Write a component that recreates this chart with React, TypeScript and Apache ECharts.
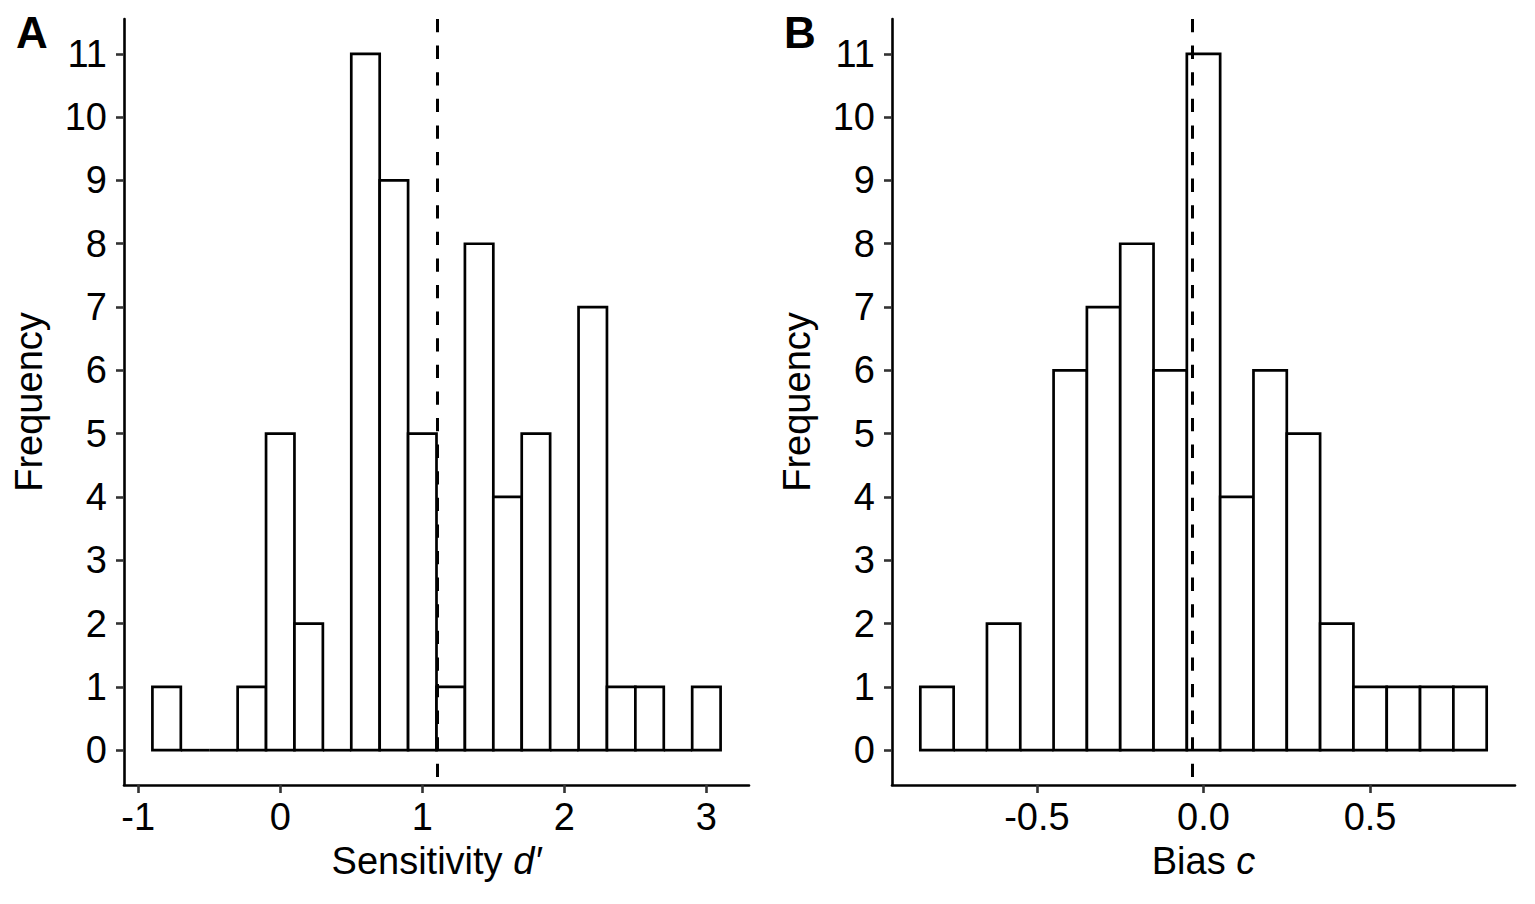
import React, { useEffect, useRef } from "react";
import * as echarts from "echarts";

// Panel A: Sensitivity d'
const countsA = [1, 0, 0, 1, 5, 2, 0, 11, 9, 5, 1, 8, 4, 5, 0, 7, 1, 1, 0, 1];
const binStartA = -0.9;
const binWidthA = 0.2;
const meanA = 1.107;
const xTicksA = [-1, 0, 1, 2, 3];
const xRangeA = [-1.1, 3.3];

// Panel B: Bias c
const countsB = [1, 0, 2, 0, 6, 7, 8, 6, 11, 4, 6, 5, 2, 1, 1, 1, 1];
const binStartB = -0.85;
const binWidthB = 0.1;
const meanB = -0.033;
const xTicksB = [-0.5, 0, 0.5];
const xRangeB = [-0.935, 0.935];

const yTicks = [0, 1, 2, 3, 4, 5, 6, 7, 8, 9, 10, 11];
const yRange = [-0.55, 11.55];

const FONT = "'Liberation Sans', Arial, Helvetica, sans-serif";
const FS = 38;

function bins(start: number, width: number, counts: number[]) {
  return counts.map((c, i) => [
    +(start + i * width).toFixed(4),
    +(start + (i + 1) * width).toFixed(4),
    c,
  ]);
}

const renderBar = (params: any, api: any) => {
  const lo = api.value(0);
  const hi = api.value(1);
  const c = api.value(2);
  const p1 = api.coord([lo, c]);
  const p2 = api.coord([hi, 0]);
  if (c === 0) {
    return {
      type: "line",
      shape: { x1: p1[0], y1: p2[1], x2: p2[0], y2: p2[1] },
      style: { stroke: "#000000", lineWidth: 2.7 },
    };
  }
  return {
    type: "rect",
    shape: { x: p1[0], y: p1[1], width: p2[0] - p1[0], height: p2[1] - p1[1] },
    style: { fill: "#ffffff", stroke: "#000000", lineWidth: 2.7 },
  };
};

function xAxisCfg(idx: number, range: number[], ticks: number[], nameRich: string, fmt: (v: number) => string) {
  return {
    type: "value",
    gridIndex: idx,
    min: range[0],
    max: range[1],
    name: nameRich,
    nameLocation: "middle",
    nameGap: 57,
    nameTextStyle: {
      fontFamily: FONT,
      fontSize: FS,
      color: "#000",
      rich: {
        n: { fontFamily: FONT, fontSize: FS, color: "#000" },
        i: { fontFamily: FONT, fontSize: FS, color: "#000", fontStyle: "italic" },
      },
    },
    axisLine: { show: true, onZero: false, lineStyle: { color: "#000", width: 2.6 } },
    axisTick: {
      show: true,
      length: 8,
      customValues: ticks,
      lineStyle: { color: "#333", width: 2.6 },
    },
    axisLabel: {
      show: true,
      customValues: ticks,
      margin: 13,
      fontFamily: FONT,
      fontSize: FS,
      color: "#000",
      formatter: (v: number) => fmt(v),
    },
    splitLine: { show: false },
  };
}

function yAxisCfg(idx: number) {
  return {
    type: "value",
    gridIndex: idx,
    min: yRange[0],
    max: yRange[1],
    name: "Frequency",
    nameLocation: "middle",
    nameGap: 76,
    nameTextStyle: { fontFamily: FONT, fontSize: FS, color: "#000" },
    axisLine: { show: true, onZero: false, lineStyle: { color: "#000", width: 2.6 } },
    axisTick: {
      show: true,
      length: 8,
      customValues: yTicks,
      lineStyle: { color: "#333", width: 2.6 },
    },
    axisLabel: {
      show: true,
      customValues: yTicks,
      margin: 17,
      fontFamily: FONT,
      fontSize: FS,
      color: "#000",
    },
    splitLine: { show: false },
  };
}

function meanLine(idx: number, x: number) {
  return {
    type: "line",
    xAxisIndex: idx,
    yAxisIndex: idx,
    data: [
      [x, yRange[1]],
      [x, yRange[0]],
    ],
    symbol: "none",
    silent: true,
    z: 10,
    lineStyle: { color: "#000", width: 3, type: [13.3, 13.3] },
  };
}

export default function App() {
  const ref = useRef<HTMLDivElement>(null);
  useEffect(() => {
    if (!ref.current) return;
    const chart = echarts.init(ref.current, undefined, { renderer: "svg" });
    chart.setOption({
      animation: false,
      backgroundColor: "#ffffff",
      grid: [
        { left: 124, top: 19, width: 625, height: 766 },
        { left: 892, top: 19, width: 623, height: 766 },
      ],
      xAxis: [
        xAxisCfg(0, xRangeA, xTicksA, "{n|Sensitivity }{i|d′}", (v) => String(v)),
        xAxisCfg(1, xRangeB, xTicksB, "{n|Bias }{i|c}", (v) => v.toFixed(1)),
      ],
      yAxis: [yAxisCfg(0), yAxisCfg(1)],
      graphic: [
        {
          type: "text",
          x: 16,
          y: 32,
          style: {
            text: "A",
            font: `bold 44px ${FONT}`,
            fill: "#000",
            textVerticalAlign: "middle",
          },
        },
        {
          type: "text",
          x: 784,
          y: 32,
          style: {
            text: "B",
            font: `bold 44px ${FONT}`,
            fill: "#000",
            textVerticalAlign: "middle",
          },
        },
      ],
      series: [
        {
          type: "custom",
          xAxisIndex: 0,
          yAxisIndex: 0,
          renderItem: renderBar,
          encode: { x: [0, 1], y: 2 },
          data: bins(binStartA, binWidthA, countsA),
          z: 2,
        },
        {
          type: "custom",
          xAxisIndex: 1,
          yAxisIndex: 1,
          renderItem: renderBar,
          encode: { x: [0, 1], y: 2 },
          data: bins(binStartB, binWidthB, countsB),
          z: 2,
        },
        meanLine(0, meanA),
        meanLine(1, meanB),
      ],
    });
    return () => chart.dispose();
  }, []);
  return (
    <div
      ref={ref}
      style={{ position: "fixed", left: 0, top: 0, width: 1535, height: 904, background: "#fff" }}
    />
  );
}
